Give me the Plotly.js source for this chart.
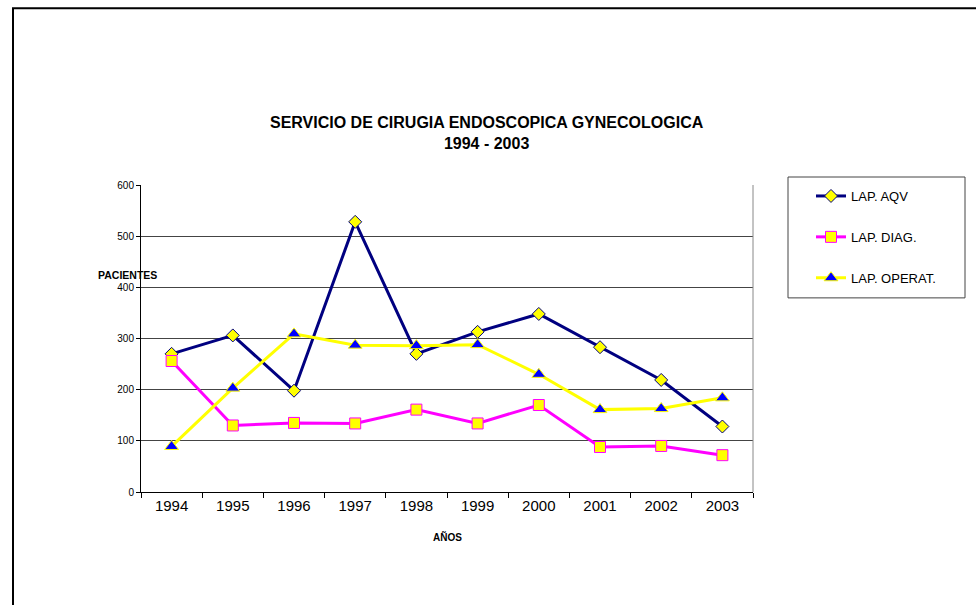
<!DOCTYPE html>
<html>
<head>
<meta charset="utf-8">
<script src="https://cdn.plot.ly/plotly-3.0.1.min.js"></script>
<style>html,body{margin:0;padding:0;background:#fff;}#chart{width:976px;height:605px;}</style>
</head>
<body>
<div id="chart"></div>
<script>
const years = ["1994","1995","1996","1997","1998","1999","2000","2001","2002","2003"];
const lapAqv = [270, 306, 198, 528, 270, 313, 348, 283, 219, 128];
const lapDiag = [256, 130, 135, 134, 161, 134, 170, 88, 90, 72];
const lapOperat = [89, 203, 309, 287, 286, 288, 230, 161, 163, 184];
const seriesNames = ["LAP. AQV", "LAP. DIAG.", "LAP. OPERAT."];
const titleText = "<b>SERVICIO DE CIRUGIA ENDOSCOPICA GYNECOLOGICA</b><br><b>1994 - 2003</b>";
const yTitle = "PACIENTES";
const xTitle = "AÑOS";

const FONT = "Arial, 'Liberation Sans', sans-serif";

const traces = [
  {
    x: years, y: lapAqv, name: seriesNames[0], type: "scatter", mode: "lines+markers",
    legendgroup: "a",
    line: {color: "#000080", width: 3},
    marker: {symbol: "diamond", size: 10, color: "#FFFF00", line: {color: "#000080", width: 1}}
  },
  {
    x: years, y: lapDiag, name: seriesNames[1], type: "scatter", mode: "lines+markers",
    legendgroup: "b",
    line: {color: "#FF00FF", width: 3},
    marker: {symbol: "square", size: 11, color: "#FFFF00", line: {color: "#FF00FF", width: 1}}
  },
  {
    x: years, y: lapOperat, name: seriesNames[2], type: "scatter", mode: "lines+markers",
    legendgroup: "c",
    line: {color: "#FFFF00", width: 3},
    marker: {symbol: "triangle-up", size: 12, color: "#0000FF", line: {color: "#FFFF00", width: 1}}
  }
];

const L = 141, R = 753, T = 185, B = 492.3;
const W = R - L, H = B - T;
const px = v => (v - L) / W;
const py = v => (B - v) / H;

const layout = {
  width: 976, height: 605,
  margin: {l: L, r: 976 - R, t: T, b: 605 - B},
  paper_bgcolor: "#fff", plot_bgcolor: "#fff",
  font: {family: FONT, color: "#000"},
  showlegend: true,
  legend: {
    x: px(811), y: py(181), xanchor: "left", yanchor: "top",
    font: {family: FONT, size: 13, color: "#000"},
    bgcolor: "rgba(0,0,0,0)", borderwidth: 0,
    traceorder: "grouped", tracegroupgap: 21
  },
  xaxis: {
    type: "category", tickson: "boundaries", range: [-0.5, 9.5], autorange: false,
    showline: true, linecolor: "#000", linewidth: 1,
    ticks: "outside", ticklen: 5, tickcolor: "#000",
    showgrid: false, zeroline: false,
    tickfont: {family: FONT, size: 15, color: "#000"},
    fixedrange: true
  },
  yaxis: {
    range: [0, 600], dtick: 100, tick0: 0, autorange: false,
    showline: true, linecolor: "#000", linewidth: 1,
    ticks: "outside", ticklen: 4, tickcolor: "#000",
    showgrid: true, gridcolor: "#444", gridwidth: 1,
    zeroline: false,
    tickfont: {family: FONT, size: 10, color: "#000"},
    fixedrange: true
  },
  annotations: [
    {text: titleText, xref: "paper", yref: "paper", x: px(486.5), y: py(132.5),
     xanchor: "center", yanchor: "middle", showarrow: false,
     font: {family: FONT, size: 16, color: "#000"}},
    {text: "<b>" + yTitle + "</b>", xref: "paper", yref: "paper", x: px(127), y: py(275),
     xanchor: "center", yanchor: "middle", showarrow: false,
     font: {family: FONT, size: 10.5, color: "#000"}},
    {text: "<b>" + xTitle + "</b>", xref: "paper", yref: "paper", x: px(447), y: py(537),
     xanchor: "center", yanchor: "middle", showarrow: false,
     font: {family: FONT, size: 10, color: "#000"}}
  ],
  shapes: [
    {type: "line", xref: "paper", yref: "paper", x0: 1, x1: 1, y0: 0, y1: 1,
     line: {color: "#888", width: 1}},
    {type: "rect", xref: "paper", yref: "paper", x0: px(788), x1: px(965), y0: py(298), y1: py(177),
     line: {color: "#444", width: 1}},
    {type: "rect", xref: "paper", yref: "paper", x0: px(13), x1: px(1100), y0: py(700), y1: py(8),
     line: {color: "#000", width: 2}}
  ]
};

Plotly.newPlot("chart", traces, layout, {displayModeBar: false, staticPlot: true});
</script>
</body>
</html>
